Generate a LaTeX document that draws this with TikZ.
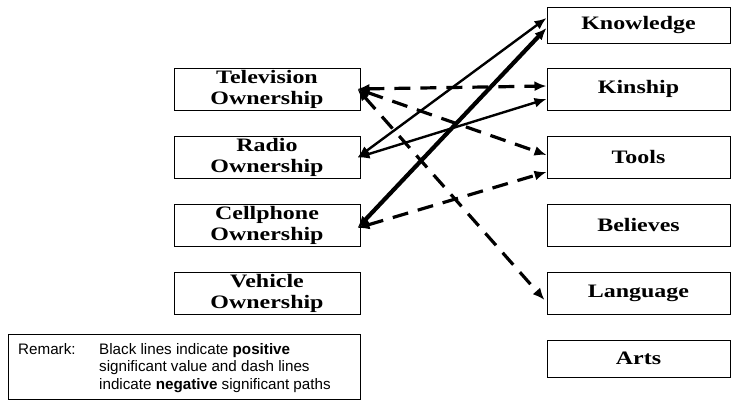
\documentclass[tikz,border=0pt]{standalone}
\usepackage{fontspec}
\setmainfont{Liberation Serif}
\newfontfamily\boxfont[FakeStretch=1.26]{Liberation Serif}
\newfontfamily\notefont{Liberation Sans}
\usetikzlibrary{arrows.meta}

\begin{document}
\begin{tikzpicture}[x=1pt,y=-1pt,
  varbox/.style={draw, line width=1pt, minimum width=186pt, minimum height=42pt,
    inner sep=0pt, align=center, font=\boxfont\bfseries\fontsize{19}{21}\selectfont},
  outbox/.style={varbox, minimum width=183pt},
  biarrow/.style={{Latex[length=12pt,width=10pt]}-{Latex[length=12pt,width=10pt]}},
  posline/.style={biarrow, line width=2.4pt},
  posthick/.style={biarrow, line width=4.2pt},
  negline/.style={biarrow, line width=3.2pt, dash pattern=on 16pt off 10pt},
  notetext/.style={font=\notefont\fontsize{15.2}{17.5}\selectfont, inner sep=0pt, anchor=north west, align=left}
]
\useasboundingbox (0,0) rectangle (731,402);

% ownership variables
\node[varbox] (tv)    at (267,89)    {Television\\Ownership};
\node[varbox] (radio) at (267,157.5) {Radio\\Ownership};
\node[varbox] (cell)  at (267,225)   {Cellphone\\Ownership};
\node[varbox] (veh)   at (267,293)   {Vehicle\\Ownership};

% cultural outcomes
\node[outbox, minimum height=36pt] (know) at (638.5,25)    {Knowledge};
\node[outbox] (kin)   at (638.5,89)    {Kinship};
\node[outbox] (tools) at (638.5,157)   {Tools};
\node[outbox] (bel)   at (638.5,225)   {Believes};
\node[outbox] (lang)  at (638.5,293)   {Language};
\node[outbox, minimum height=37pt] (arts) at (638.5,358.5) {Arts};

% positive paths
\draw[posline] ([xshift=-3pt]radio.east) -- ([yshift=7pt]know.west);
\draw[posline] ([xshift=-3pt]radio.east) -- ([yshift=-10pt]kin.west);
\draw[posthick] ([xshift=-3pt,yshift=-3pt]cell.east) -- ([yshift=-3pt]know.west);

% negative paths
\draw[negline] ([xshift=-3pt]tv.east) -- ([yshift=3pt]kin.west);
\draw[negline] ([xshift=-3pt]tv.east) -- ([yshift=2pt]tools.west);
\draw[negline] ([xshift=-3pt]tv.east) -- ([xshift=-2pt,yshift=-7pt]lang.west);
\draw[negline] ([xshift=-3pt,yshift=-3pt]cell.east) -- ([yshift=-15pt]tools.west);

% legend
\node[draw, line width=1pt, anchor=north west, minimum width=352pt, minimum height=65pt, inner sep=0pt]
  (remark) at (8,334) {};
\node[notetext] (remlabel) at ([xshift=10pt,yshift=-9pt]remark.north west) {Remark:};
\node[notetext] (remtext) at ([xshift=91pt,yshift=-9pt]remark.north west)
  {Black lines indicate \textbf{positive}\\
   significant value and dash lines\\
   indicate \textbf{negative} significant paths};
\end{tikzpicture}
\end{document}
